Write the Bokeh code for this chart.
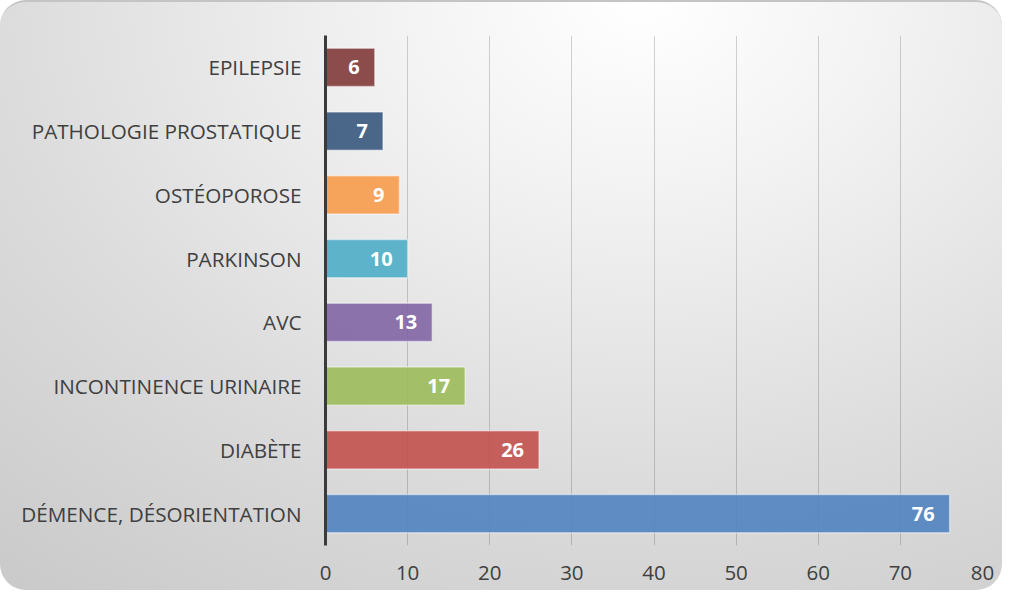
from bokeh.plotting import figure
from bokeh.models import ColumnDataSource, InlineStyleSheet, FixedTicker
from bokeh.core.properties import value
from bokeh.embed import file_html
from bokeh.resources import INLINE

# Data (top to bottom as shown)
categories = ["EPILEPSIE", "PATHOLOGIE PROSTATIQUE", "OSTÉOPOROSE", "PARKINSON",
              "AVC", "INCONTINENCE URINAIRE", "DIABÈTE", "DÉMENCE, DÉSORIENTATION"]
counts = [6, 7, 9, 10, 13, 17, 26, 76]
bar_colors = ["#7f3a38", "#37577c", "#f79b4c", "#4eadc6", "#8265a3",
              "#9cbb5b", "#c2514e", "#5083c0"]
x_ticks = [0, 10, 20, 30, 40, 50, 60, 70, 80]

FONT = "Open Sans"

source = ColumnDataSource(dict(cat=categories, val=counts, color=bar_colors,
                               label=[str(v) for v in counts]))

p = figure(width=1002, height=590, y_range=list(reversed(categories)),
           x_range=(0, 80), output_backend="svg", toolbar_location=None,
           min_border_left=325, min_border_right=20, min_border_top=33,
           min_border_bottom=47)

p.stylesheets = [InlineStyleSheet(css=""":host {
  background: radial-gradient(ellipse 110% 140% at 64% 0%, #ffffff 0%, #f3f3f3 22%, #dcdcdc 58%, #c5c5c5 100%);
  border-radius: 26px;
  border-top: 2px solid #c4c4c4;
  box-sizing: border-box;
  overflow: hidden;
}""")]
p.border_fill_alpha = 0
p.background_fill_alpha = 0
p.outline_line_color = None

p.hbar(y="cat", right="val", left=0, height=0.6, source=source,
       fill_color="color", fill_alpha=0.9, line_color="white", line_alpha=0.45,
       line_width=1.5)

p.text(x="val", y="cat", text="label", source=source, x_offset=-15,
       text_align="right", text_baseline="middle", text_color="white",
       text_font=value(FONT), text_font_style="bold", text_font_size="20px")

# grid
p.ygrid.grid_line_color = None
p.xgrid.grid_line_color = "black"
p.xgrid.grid_line_alpha = 0.17
p.xgrid.grid_line_width = 1
p.xaxis.ticker = FixedTicker(ticks=x_ticks)

# x axis
p.xaxis.axis_line_color = None
p.xaxis.major_tick_line_color = None
p.xaxis.minor_tick_line_color = None
p.xaxis.major_tick_out = 0
p.xaxis.major_label_standoff = 20
p.xaxis.major_label_text_font = FONT
p.xaxis.major_label_text_font_size = "20.5px"
p.xaxis.major_label_text_color = "#404040"

# y axis
p.yaxis.axis_line_color = "#3a3a3a"
p.yaxis.axis_line_width = 3
p.yaxis.major_tick_line_color = None
p.yaxis.minor_tick_line_color = None
p.yaxis.major_tick_out = 0
p.yaxis.major_label_standoff = 24
p.yaxis.major_label_text_font = FONT
p.yaxis.major_label_text_font_size = "20.7px"
p.yaxis.major_label_text_color = "#404040"

open("out.html", "w").write(file_html(p, INLINE))
